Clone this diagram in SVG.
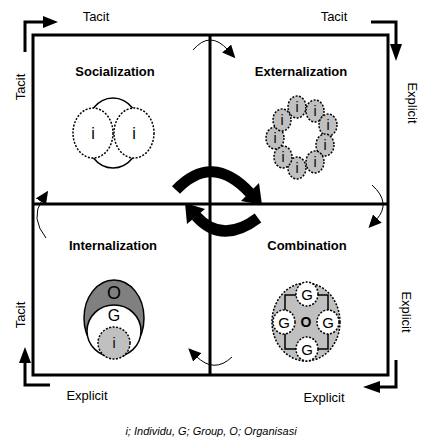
<svg xmlns="http://www.w3.org/2000/svg" width="422" height="439" viewBox="0 0 422 439">
<defs>
<marker id="ah" markerUnits="userSpaceOnUse" markerWidth="14" markerHeight="12" refX="2" refY="6" orient="auto"><path d="M0,0 L13,6 L0,12 z" fill="#000"/></marker>
</defs>
<style>
text{font-family:"Liberation Sans",Arial,sans-serif;fill:#000}
.lbl{font-size:13px}
.ttl{font-size:13px;font-weight:bold}
.frame{fill:none;stroke:#000;stroke-width:3}
.thin{fill:none;stroke:#000;stroke-width:1}
.corner{fill:none;stroke:#000;stroke-width:3}
.dash{stroke:#000;stroke-width:1.5;stroke-dasharray:2 1.5}
.gi{fill:#c0c0c0}
.wh{fill:#fff}
.big{fill:none;stroke:#000;stroke-width:11}
</style>
<rect fill="#fff" width="422" height="439"/>

<g id="frame">
<rect class="frame" x="33" y="35" width="355" height="340"/>
<line class="frame" x1="210" y1="35" x2="210" y2="375"/>
<line class="frame" x1="33" y1="204" x2="388" y2="204"/>
</g>

<g id="axes">
<path class="corner" d="M25,52 V22 H44"/>
<polygon points="43,16 58,22 43,28"/>
<text class="lbl" x="96" y="21" text-anchor="middle">Tacit</text>
<path class="corner" d="M371,22 H396 V45"/>
<polygon points="390,44 402,44 396,61"/>
<text class="lbl" x="334" y="21" text-anchor="middle">Tacit</text>
<path class="corner" d="M50,385 H25 V362"/>
<polygon points="19,363 31,363 25,347"/>
<text class="lbl" x="87" y="400" text-anchor="middle">Explicit</text>
<path class="corner" d="M396,360 V387 H380"/>
<polygon points="380,381 380,393 363,387"/>
<text class="lbl" x="324" y="402" text-anchor="middle">Explicit</text>
<text class="lbl" text-anchor="middle" transform="translate(20,87) rotate(-90)" y="4.5">Tacit</text>
<text class="lbl" text-anchor="middle" transform="translate(20,315) rotate(-90)" y="4.5">Tacit</text>
<text class="lbl" text-anchor="middle" transform="translate(412,103) rotate(90)" y="4.5">Explicit</text>
<text class="lbl" text-anchor="middle" transform="translate(406,312) rotate(90)" y="4.5">Explicit</text>
</g>

<g id="connectors">
<path class="thin" d="M193,50 Q210,30 228,50" marker-end="url(#ah)"/>
<path class="thin" d="M372,185 Q392,203 376,220" marker-end="url(#ah)"/>
<path class="thin" d="M232,357 Q214,374 196,356" marker-end="url(#ah)"/>
<path class="thin" d="M46,238 Q30,218 42,200" marker-end="url(#ah)"/>
<path class="big" d="M176,190 Q212,152 250,193"/>
<polygon points="259,183 241,201 262,205"/>
<path class="big" d="M258,218 Q222,245 196,216"/>
<polygon points="205,209 187,224 185,203"/>
</g>

<g id="socialization">
<text class="ttl" x="115" y="76" text-anchor="middle">Socialization</text>
<ellipse cx="113" cy="133" rx="28" ry="35" fill="#fff" stroke="#000" stroke-width="1.5"/>
<ellipse class="wh" cx="93" cy="133" rx="20" ry="25"/>
<ellipse class="wh" cx="134" cy="133" rx="20" ry="25"/>
<ellipse class="dash" fill="none" cx="93" cy="133" rx="20" ry="25"/>
<ellipse class="dash" fill="none" cx="134" cy="133" rx="20" ry="25"/>
<text x="93" y="139" font-size="16" text-anchor="middle">i</text>
<text x="134" y="139" font-size="16" text-anchor="middle">i</text>
</g>

<g id="externalization">
<text class="ttl" x="301" y="76" text-anchor="middle">Externalization</text>
<g font-size="14" text-anchor="middle">
<ellipse class="gi dash" cx="297" cy="107" rx="9" ry="11"/><text x="297" y="112">i</text>
<ellipse class="gi dash" cx="315" cy="111" rx="9" ry="11"/><text x="315" y="116">i</text>
<ellipse class="gi dash" cx="328" cy="125" rx="9" ry="11"/><text x="328" y="130">i</text>
<ellipse class="gi dash" cx="325" cy="145" rx="9" ry="11"/><text x="325" y="150">i</text>
<ellipse class="gi dash" cx="315" cy="162" rx="9" ry="11"/><text x="315" y="167">i</text>
<ellipse class="gi dash" cx="297" cy="168" rx="9" ry="11"/><text x="297" y="173">i</text>
<ellipse class="gi dash" cx="283" cy="157" rx="9" ry="11"/><text x="283" y="162">i</text>
<ellipse class="gi dash" cx="275" cy="138" rx="9" ry="11"/><text x="275" y="143">i</text>
<ellipse class="gi dash" cx="282" cy="120" rx="9" ry="11"/><text x="282" y="125">i</text>
</g>
</g>

<g id="internalization">
<text class="ttl" x="113" y="250" text-anchor="middle">Internalization</text>
<ellipse cx="114" cy="318" rx="30" ry="38" fill="#808080" stroke="#000" stroke-width="1.5"/>
<ellipse cx="114" cy="331" rx="27" ry="26" fill="#fff" stroke="#000" stroke-width="1.5"/>
<ellipse class="gi dash" cx="114" cy="343" rx="16" ry="16"/>
<text x="114" y="299" font-size="18" text-anchor="middle">O</text>
<text x="114" y="321" font-size="16" text-anchor="middle">G</text>
<text x="114" y="348" font-size="14" text-anchor="middle">i</text>
</g>

<g id="combination">
<text class="ttl" x="307" y="250" text-anchor="middle">Combination</text>
<ellipse class="gi dash" cx="306" cy="322" rx="34" ry="39"/>
<rect x="285" y="295" width="43" height="54" fill="none" stroke="#000" stroke-width="1.5"/>
<g font-size="15" text-anchor="middle">
<ellipse class="wh dash" cx="307" cy="294" rx="11" ry="12"/><text x="307" y="299.5">G</text>
<ellipse class="wh dash" cx="284" cy="322" rx="11" ry="12"/><text x="284" y="327.5">G</text>
<ellipse class="wh dash" cx="328" cy="322" rx="11" ry="12"/><text x="328" y="327.5">G</text>
<ellipse class="wh dash" cx="307" cy="349" rx="11" ry="12"/><text x="307" y="354.5">G</text>
</g>
<text x="306" y="327" font-size="14" font-weight="bold" text-anchor="middle">O</text>
</g>

<text x="211" y="435" font-size="11" font-style="italic" text-anchor="middle">i; Individu, G; Group, O; Organisasi</text>
</svg>
